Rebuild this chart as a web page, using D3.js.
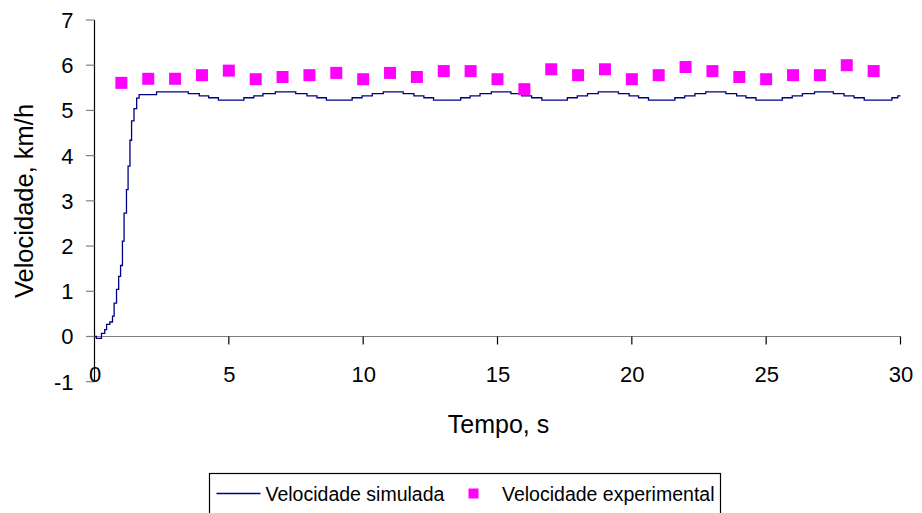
<!DOCTYPE html>
<html>
<head>
<meta charset="utf-8">
<script src="https://cdn.jsdelivr.net/npm/d3@7"></script>
<style>
  body { margin: 0; background: #fff; }
  svg text { font-family: "Liberation Sans", Arial, sans-serif; fill: #000; }
</style>
</head>
<body>
<svg id="chart"></svg>
<script>
// simulated speed (step changes): time in s, speed in km/h
const simTime = [0, 0.07, 0.26, 0.38, 0.45, 0.57, 0.67, 0.73, 0.82, 0.90, 0.97, 1.04, 1.10, 1.19, 1.25, 1.32, 1.38, 1.47, 1.57, 1.66,
  2.31, 3.49, 3.90, 4.25, 4.61,
  5.56, 5.93, 6.27, 6.73, 7.49, 7.91, 8.28, 8.63,
  9.59, 9.96, 10.34, 10.75, 11.49, 11.89, 12.26, 12.62,
  13.63, 13.98, 14.35, 14.77, 15.50, 15.90, 16.27, 16.65,
  17.60, 17.97, 18.35, 18.75, 19.50, 19.90, 20.25, 20.62,
  21.60, 21.97, 22.35, 22.75, 23.50, 23.90, 24.25, 24.62,
  25.60, 25.97, 26.35, 26.80, 27.50, 27.90, 28.27, 28.65,
  29.68, 29.90, 30];
const simVel = [0, -0.04, 0.07, 0.15, 0.27, 0.32, 0.45, 0.74, 1.04, 1.33, 1.57, 2.11, 2.73, 3.25, 3.77, 4.34, 4.77, 5.04, 5.27, 5.35,
  5.41, 5.37, 5.32, 5.28, 5.23,
  5.28, 5.32, 5.37, 5.41, 5.37, 5.32, 5.28, 5.23,
  5.28, 5.32, 5.37, 5.41, 5.37, 5.32, 5.28, 5.23,
  5.28, 5.32, 5.37, 5.41, 5.37, 5.32, 5.28, 5.23,
  5.28, 5.32, 5.37, 5.41, 5.37, 5.32, 5.28, 5.23,
  5.28, 5.32, 5.37, 5.41, 5.37, 5.32, 5.28, 5.23,
  5.28, 5.32, 5.37, 5.41, 5.37, 5.32, 5.28, 5.23,
  5.28, 5.32, 5.32];

// experimental speed, one reading per second
const expTime = [1, 2, 3, 4, 5, 6, 7, 8, 9, 10, 11, 12, 13, 14, 15, 16, 17, 18, 19, 20, 21, 22, 23, 24, 25, 26, 27, 28, 29];
const expVel = [5.61, 5.70, 5.70, 5.78, 5.88, 5.69, 5.74, 5.78, 5.83, 5.69, 5.83, 5.74, 5.87, 5.87, 5.69, 5.47, 5.91, 5.78,
  5.91, 5.69, 5.78, 5.96, 5.87, 5.74, 5.69, 5.78, 5.78, 6.00, 5.87];

const xTicks = [0, 5, 10, 15, 20, 25, 30];
const yTicks = [-1, 0, 1, 2, 3, 4, 5, 6, 7];

const seriesNames = ["Velocidade simulada", "Velocidade experimental"];

const W = 922, H = 513;
const margin = {top: 20, right: 21.5, bottom: 131.3, left: 94.5},
  width = W - margin.left - margin.right,
  height = H - margin.top - margin.bottom;

const svg = d3.select("#chart")
  .attr("width", W)
  .attr("height", H);

const g = svg.append("g")
  .attr("transform", "translate(" + margin.left + "," + margin.top + ")");

const x = d3.scaleLinear().domain([0, 30]).range([0, width]);
const y = d3.scaleLinear().domain([-1, 7]).range([height, 0]);

// y axis: black line, grey ticks pointing left
g.append("line")
  .attr("x1", 0).attr("x2", 0)
  .attr("y1", y(7)).attr("y2", y(-1))
  .attr("stroke", "#000").attr("stroke-width", 1.2);

g.selectAll(".ytick")
  .data(yTicks)
  .join("line")
  .attr("class", "ytick")
  .attr("x1", -8.5).attr("x2", 0)
  .attr("y1", d => y(d)).attr("y2", d => y(d))
  .attr("stroke", "#808080").attr("stroke-width", 1.2);

g.selectAll(".ylab")
  .data(yTicks)
  .join("text")
  .attr("class", "ylab")
  .attr("x", -21)
  .attr("y", d => y(d))
  .attr("dy", "0.36em")
  .attr("text-anchor", "end")
  .attr("font-size", "22px")
  .text(d => d);

// x axis at value 0, ticks pointing down, labels at bottom
g.append("line")
  .attr("x1", 0).attr("x2", x(30))
  .attr("y1", y(0)).attr("y2", y(0))
  .attr("stroke", "#808080").attr("stroke-width", 1.2);

g.selectAll(".xtick")
  .data(xTicks.filter(d => d > 0))
  .join("line")
  .attr("class", "xtick")
  .attr("x1", d => x(d)).attr("x2", d => x(d))
  .attr("y1", y(0)).attr("y2", y(0) + 8)
  .attr("stroke", "#000").attr("stroke-width", 1.2);

g.selectAll(".xlab")
  .data(xTicks)
  .join("text")
  .attr("class", "xlab")
  .attr("x", d => x(d) + 0.5)
  .attr("y", height + 0.5)
  .attr("text-anchor", "middle")
  .attr("font-size", "22px")
  .text(d => d);

// axis titles
svg.append("text")
  .attr("x", margin.left + x(15) + 1)
  .attr("y", 433)
  .attr("text-anchor", "middle")
  .attr("font-size", "25px")
  .text("Tempo, s");

svg.append("text")
  .attr("transform", "translate(33,201) rotate(-90)")
  .attr("text-anchor", "middle")
  .attr("font-size", "25.5px")
  .text("Velocidade, km/h");

// simulated line
const line = d3.line()
  .curve(d3.curveStepAfter)
  .x(d => x(d[0]))
  .y(d => y(d[1]));

g.append("path")
  .datum(simTime.map((t, i) => [t, simVel[i]]))
  .attr("fill", "none")
  .attr("stroke", "#000080")
  .attr("stroke-width", 1.3)
  .attr("d", line);

// experimental points
const sq = 12;
g.selectAll(".exp")
  .data(expTime.map((t, i) => [t, expVel[i]]))
  .join("rect")
  .attr("class", "exp")
  .attr("x", d => x(d[0]) - sq / 2)
  .attr("y", d => y(d[1]) - sq / 2)
  .attr("width", sq)
  .attr("height", sq)
  .attr("fill", "#ff00ff");

// legend
const legend = svg.append("g").attr("transform", "translate(209.5,473.5)");

legend.append("rect")
  .attr("x", 0).attr("y", 0)
  .attr("width", 511).attr("height", 60)
  .attr("fill", "#fff")
  .attr("stroke", "#000")
  .attr("stroke-width", 1.2);

legend.append("line")
  .attr("x1", 7).attr("x2", 51)
  .attr("y1", 20).attr("y2", 20)
  .attr("stroke", "#000080")
  .attr("stroke-width", 1.3);

legend.append("text")
  .attr("x", 56).attr("y", 27)
  .attr("font-size", "19.5px")
  .text(seriesNames[0]);

legend.append("rect")
  .attr("x", 259).attr("y", 15)
  .attr("width", 10).attr("height", 10)
  .attr("fill", "#ff00ff");

legend.append("text")
  .attr("x", 292.5).attr("y", 27)
  .attr("font-size", "19.5px")
  .text(seriesNames[1]);
</script>
</body>
</html>
